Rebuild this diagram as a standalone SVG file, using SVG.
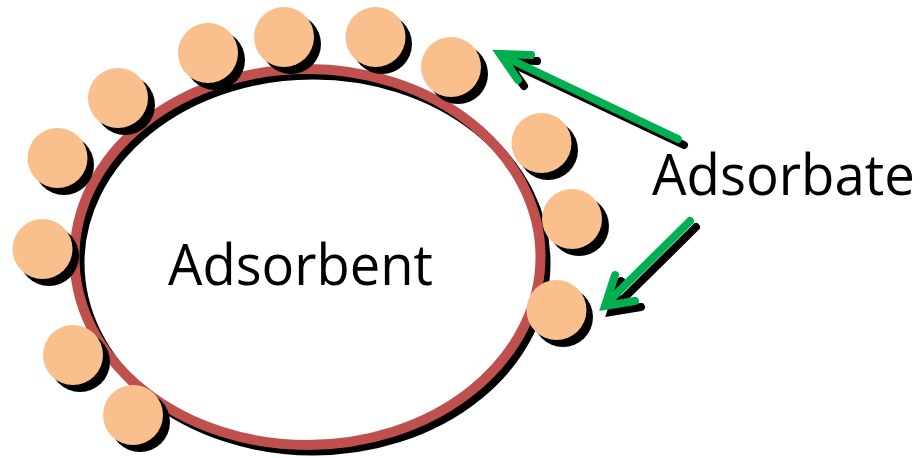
<svg xmlns="http://www.w3.org/2000/svg" width="922" height="458" viewBox="0 0 922 458">
<style>
.sh{fill:#000}
.ball{fill:#F9C08E}
.lbl{font-family:"Open Sans","Liberation Sans",sans-serif;font-size:56px;fill:#000}
.arr{fill:none;stroke-width:8;stroke-linecap:round;stroke-linejoin:miter}
</style>
<rect width="922" height="458" fill="#fff"/>
<g id="adsorbent">
<ellipse cx="313" cy="263" rx="233" ry="188" fill="none" stroke="#000" stroke-width="9"/>
<ellipse cx="307.5" cy="257" rx="233" ry="188" fill="none" stroke="#C0504D" stroke-width="10"/>
<text class="lbl" x="168" y="285" textLength="265" lengthAdjust="spacingAndGlyphs">Adsorbent</text>
</g>
<g id="adsorbate-particles">
<g id="p1"><circle class="sh" cx="64" cy="165" r="30"/><circle class="ball" cx="57.5" cy="158" r="30"/></g>
<g id="p2"><circle class="sh" cx="125" cy="105" r="30"/><circle class="ball" cx="118" cy="98" r="30"/></g>
<g id="p3"><circle class="sh" cx="215" cy="60" r="30"/><circle class="ball" cx="208" cy="53" r="30"/></g>
<g id="p4"><circle class="sh" cx="291" cy="44" r="30"/><circle class="ball" cx="284" cy="37" r="30"/></g>
<g id="p5"><circle class="sh" cx="382" cy="44" r="30"/><circle class="ball" cx="375.5" cy="37" r="30"/></g>
<g id="p6"><circle class="sh" cx="458" cy="74" r="30"/><circle class="ball" cx="451" cy="67" r="30"/></g>
<g id="p7"><circle class="sh" cx="548" cy="150" r="30"/><circle class="ball" cx="541.5" cy="143" r="30"/></g>
<g id="p8"><circle class="sh" cx="579" cy="226" r="30"/><circle class="ball" cx="572" cy="219" r="30"/></g>
<g id="p9"><circle class="sh" cx="563" cy="317" r="30"/><circle class="ball" cx="556.5" cy="310" r="30"/></g>
<g id="p10"><circle class="sh" cx="49" cy="256" r="30"/><circle class="ball" cx="42.5" cy="249" r="30"/></g>
<g id="p11"><circle class="sh" cx="80" cy="362" r="30"/><circle class="ball" cx="73" cy="355" r="30"/></g>
<g id="p12"><circle class="sh" cx="140" cy="422" r="30"/><circle class="ball" cx="133" cy="415" r="30"/></g>
</g>
<g id="label-adsorbate">
<text class="lbl" x="652" y="195" textLength="263" lengthAdjust="spacingAndGlyphs">Adsorbate</text>
</g>
<g id="connectors">
<g stroke="#000" class="arr" transform="translate(6,6)">
<path d="M678,139 L501,55"/>
<path d="M531,55 L500,54 L518,80"/>
<path d="M690,221 L606,304"/>
<path d="M615,275 L605,306 L635,301"/>
</g>
<g stroke="#00B050" class="arr">
<path d="M678,139 L501,55"/>
<path d="M531,55 L500,54 L518,80"/>
<path d="M690,221 L606,304"/>
<path d="M615,275 L605,306 L635,301"/>
</g>
</g>
</svg>
